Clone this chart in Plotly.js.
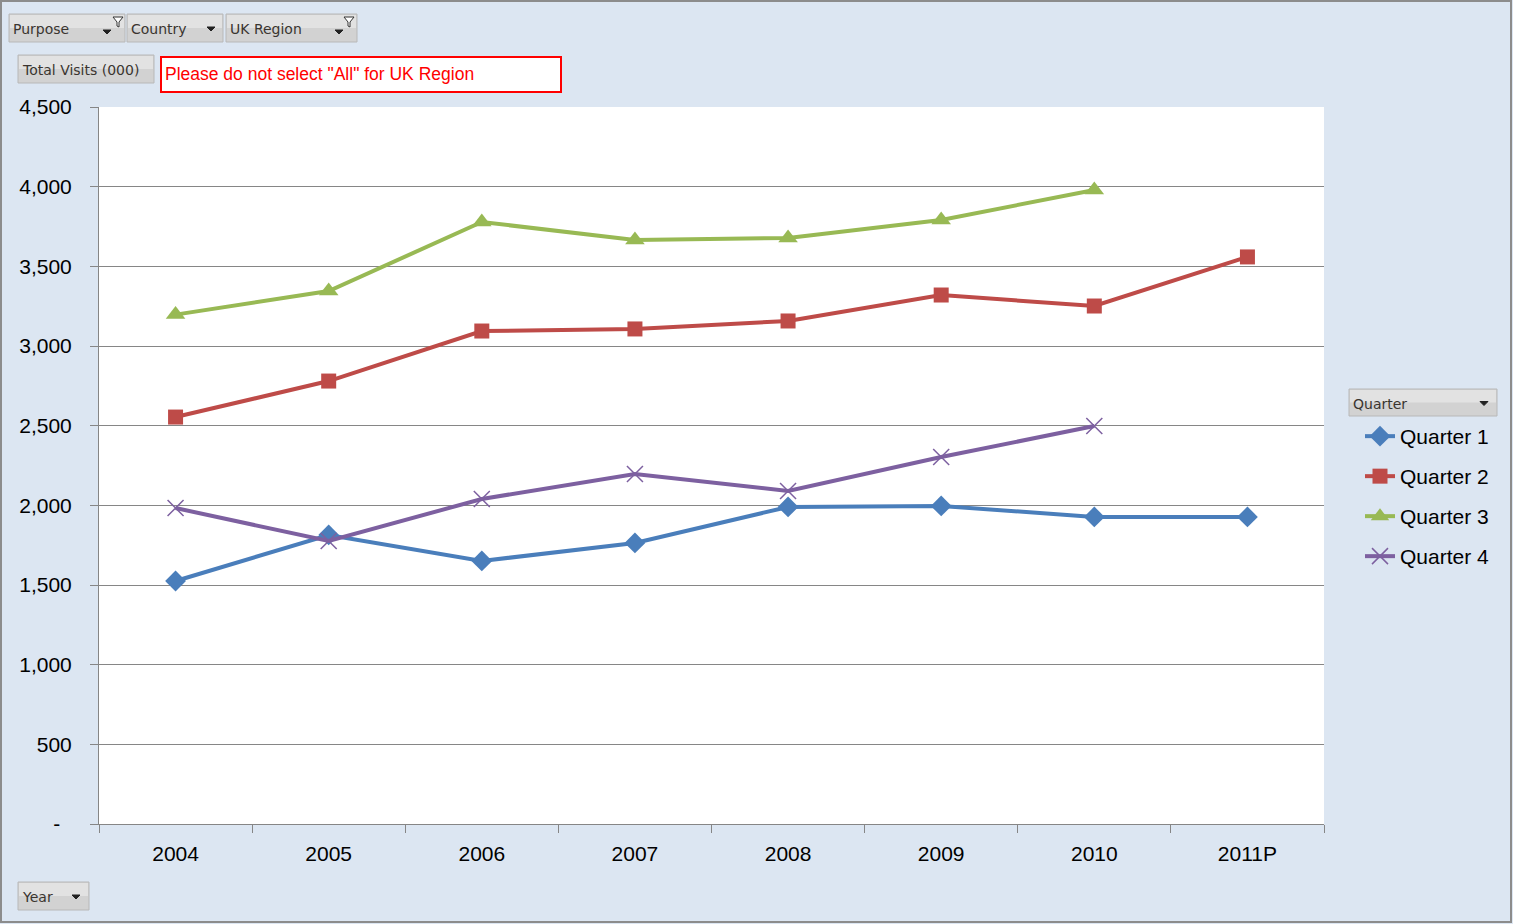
<!DOCTYPE html>
<html>
<head>
<meta charset="utf-8">
<script src="https://cdn.plot.ly/plotly-3.0.1.min.js"></script>
<style>
html,body{margin:0;padding:0;background:#dce6f2;}
#chart{width:1513px;height:924px;}
</style>
</head>
<body>
<div id="chart"></div>
<script>
// ---- data ----
const years = ["2004","2005","2006","2007","2008","2009","2010","2011P"];
const quarter1 = [1525, 1814, 1651, 1764, 1990, 1996, 1927, 1927];
const quarter2 = [2554, 2780, 3094, 3107, 3157, 3320, 3251, 3559];
const quarter3 = [3197, 3345, 3778, 3665, 3678, 3791, 3979, null];
const quarter4 = [1983, 1776, 2040, 2197, 2090, 2303, 2498, null];
const seriesNames = ["Quarter 1","Quarter 2","Quarter 3","Quarter 4"];
const yTickVals = [0,500,1000,1500,2000,2500,3000,3500,4000,4500];
const yTickText = ["-\u00a0\u00a0","500","1,000","1,500","2,000","2,500","3,000","3,500","4,000","4,500"];
const fieldButtons = ["Purpose","Country","UK Region","Total Visits (000)","Quarter","Year"];
const warningText = 'Please do not select "All" for UK Region';

// ---- geometry helpers (page pixels -> paper) ----
const W = 1513, H = 924;
const L = 99, R = 1324, T = 107, B = 824;
const px = x => (x - L) / (R - L);
const py = y => (B - y) / (B - T);

const colors = ["#4a7ebb","#be4b48","#98b954","#7d60a0"];
const symbols = ["diamond","square","triangle-up","x-thin"];
const sizes = [16, 15, 17, 16];
const vals = [quarter1, quarter2, quarter3, quarter4];

const traces = vals.map((v, i) => ({
  type: "scatter", mode: "lines+markers",
  x: years, y: v, name: seriesNames[i],
  legendgroup: "g" + i,
  line: {color: colors[i], width: 4},
  marker: {symbol: symbols[i], size: sizes[i], color: colors[i],
           line: {color: colors[i], width: i === 3 ? 1.5 : 0}},
  connectgaps: false,
  hoverinfo: "skip"
}));

const shapes = [];
const annotations = [];
function button(x0, y0, x1, y1, label, fontSize, arrowX, funnelX) {
  shapes.push({type:"rect", xref:"paper", yref:"paper",
    x0:px(x0), x1:px(x1), y0:py(y1), y1:py(y0),
    fillcolor:"#d2d2d2", line:{color:"#b8b8b8", width:1}});
  shapes.push({type:"rect", xref:"paper", yref:"paper",
    x0:px(x0+1), x1:px(x1-1), y0:py((y0+y1)/2), y1:py(y0+1),
    fillcolor:"#e2e2e2", line:{width:0}});
  annotations.push({xref:"paper", yref:"paper", x:px(x0+2), y:py((y0+y1)/2+1),
    xanchor:"left", yanchor:"middle", showarrow:false, text:label,
    font:{family:"DejaVu Sans, Verdana, sans-serif", size:fontSize, color:"#3a3530"}});
  if (arrowX) {
    const ay = funnelX ? (y0+y1)/2 + 4 : (y0+y1)/2 + 1;
    shapes.push({type:"path", xref:"paper", yref:"paper",
      path:`M ${px(arrowX-4)},${py(ay-2)} L ${px(arrowX+4)},${py(ay-2)} L ${px(arrowX)},${py(ay+2)} Z`,
      fillcolor:"#222222", line:{color:"#222222", width:1}});
  }
  if (funnelX) {
    const fy = y0 + 3;
    shapes.push({type:"path", xref:"paper", yref:"paper",
      path:`M ${px(funnelX)},${py(fy)} L ${px(funnelX+10)},${py(fy)} L ${px(funnelX+6)},${py(fy+5)} L ${px(funnelX+6)},${py(fy+10)} L ${px(funnelX+4)},${py(fy+9)} L ${px(funnelX+4)},${py(fy+5)} Z`,
      fillcolor:"#ffffff", line:{color:"#333333", width:1}});
  }
}
button(9, 14, 125, 42, fieldButtons[0], 14, 107, 113);
button(127, 14, 223, 42, fieldButtons[1], 14, 211, null);
button(226, 14, 357, 42, fieldButtons[2], 14, 339, 344);
button(18, 55, 154, 83, fieldButtons[3], 14, null, null);
button(1349, 389, 1497, 416, fieldButtons[4], 14, 1484, null);
button(18, 882, 89, 910, fieldButtons[5], 14, 76, null);

// warning box
shapes.push({type:"rect", xref:"paper", yref:"paper",
  x0:px(161), x1:px(561), y0:py(92), y1:py(57),
  fillcolor:"#ffffff", line:{color:"#ff0000", width:2}});
annotations.push({xref:"paper", yref:"paper", x:px(163), y:py(74),
  xanchor:"left", yanchor:"middle", showarrow:false, text:warningText,
  font:{family:"Liberation Sans Narrow, Arial Narrow, Liberation Sans, Arial", size:17.5, color:"#ff0000"}});

// page border
shapes.push({type:"rect", xref:"paper", yref:"paper",
  x0:px(1), x1:px(W-2), y0:py(H-2), y1:py(1),
  line:{color:"#8c8c8c", width:2}, fillcolor:"rgba(0,0,0,0)"});

const layout = {
  width: W, height: H,
  margin: {l:L, r:W-R, t:T, b:H-B, pad:0},
  paper_bgcolor: "#dce6f2",
  plot_bgcolor: "#ffffff",
  font: {family:"Liberation Sans, Arial, sans-serif", size:20, color:"#000000"},
  showlegend: true,
  hovermode: false,
  xaxis: {
    type:"category", categoryorder:"array", categoryarray: years,
    range:[-0.5, years.length-0.5],
    tickson:"boundaries", ticks:"outside", ticklen:8, tickcolor:"#868686", tickwidth:1,
    showline:true, linecolor:"#868686", linewidth:1,
    showgrid:false, zeroline:false,
    tickfont:{size:21, color:"#000000"},
    ticklabelstandoff: 11,
    fixedrange:true
  },
  yaxis: {
    range:[0, 4500], tickvals: yTickVals, ticktext: yTickText,
    ticks:"outside", ticklen:8, tickcolor:"#868686", tickwidth:1,
    showline:true, linecolor:"#868686", linewidth:1,
    showgrid:true, gridcolor:"#868686", gridwidth:1,
    zeroline:false,
    tickfont:{size:21, color:"#000000"},
    ticklabelstandoff: 14,
    fixedrange:true
  },
  legend: {
    x: px(1360), y: py(416), xanchor:"left", yanchor:"top",
    bgcolor:"rgba(0,0,0,0)", borderwidth:0,
    font:{size:21, color:"#000000"},
    traceorder:"grouped", tracegroupgap: 9.7,
    itemclick:false, itemdoubleclick:false
  },
  shapes: shapes,
  annotations: annotations
};

Plotly.newPlot("chart", traces, layout, {displayModeBar:false, staticPlot:true});
</script>
</body>
</html>
